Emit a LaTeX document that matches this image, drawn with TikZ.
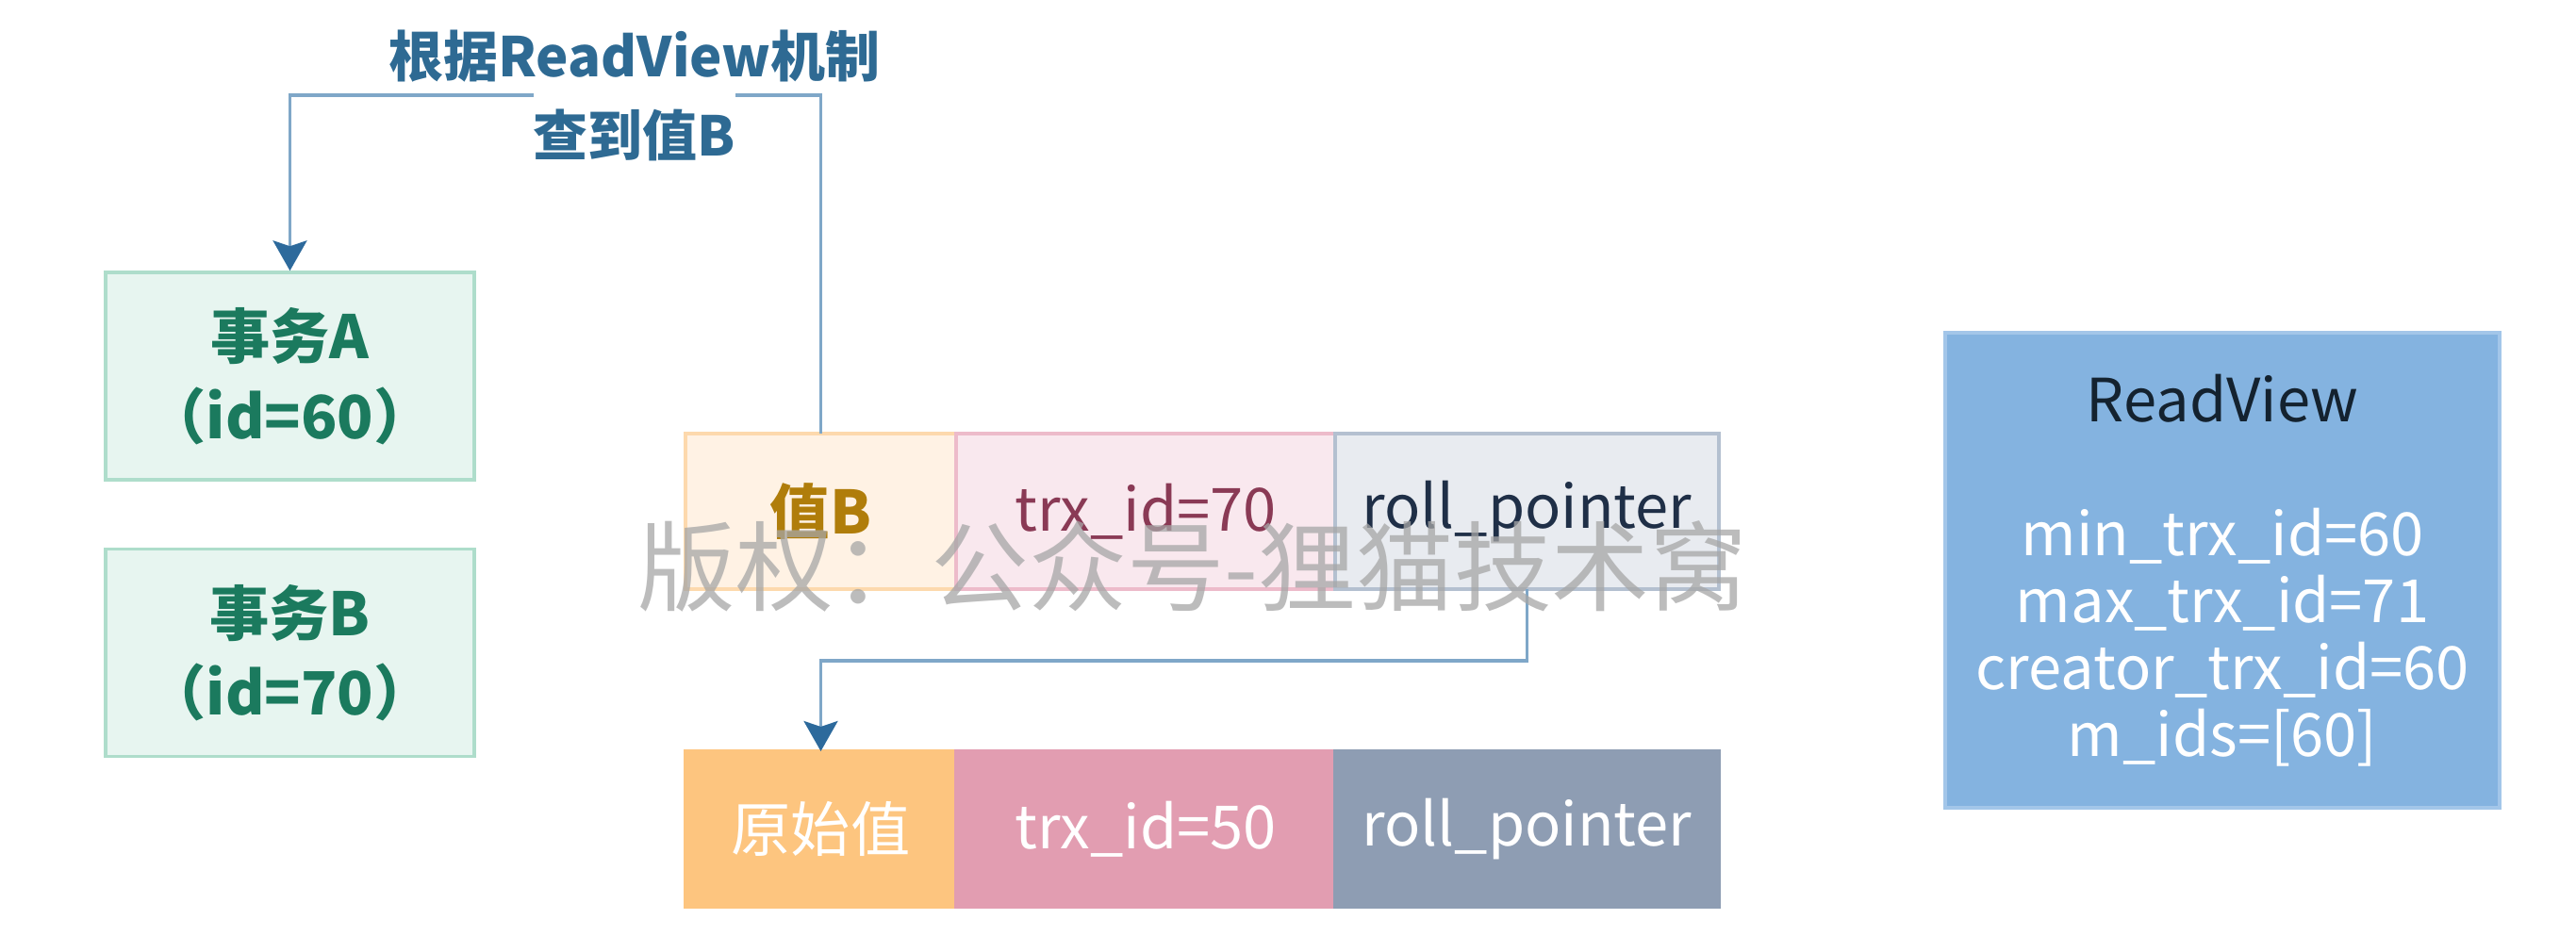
\documentclass[tikz,border=0pt]{standalone}
\usepackage{fontspec}
\setmainfont{Noto Sans CJK SC}
\usetikzlibrary{arrows.meta, positioning}
\definecolor{cTxFill}{HTML}{E7F5F0}
\definecolor{cTxLine}{HTML}{AEDDCB}
\definecolor{cTxText}{HTML}{1B7A5E}
\definecolor{cLink}{HTML}{7FA7C8}
\definecolor{cTip}{HTML}{2D6A9C}
\definecolor{cLabel}{HTML}{2E6A93}
\definecolor{cValFill}{HTML}{FFF2E4}
\definecolor{cValLine}{HTML}{FDD9AD}
\definecolor{cValText}{HTML}{B07D0A}
\definecolor{cTrxFill}{HTML}{F9E8EE}
\definecolor{cTrxLine}{HTML}{EDBBCA}
\definecolor{cTrxText}{HTML}{8A3A55}
\definecolor{cPtrFill}{HTML}{E8EBF0}
\definecolor{cPtrLine}{HTML}{B4C0D0}
\definecolor{cPtrText}{HTML}{1F2F47}
\definecolor{cOrig}{HTML}{FDC57F}
\definecolor{cTrxOld}{HTML}{E29DB1}
\definecolor{cPtrOld}{HTML}{8E9DB3}
\definecolor{cRvFill}{HTML}{84B3E0}
\definecolor{cRvLine}{HTML}{A3C6E9}
\definecolor{cRvText}{HTML}{14222F}
\newcommand{\txt}{\fontsize{18}{24}\selectfont}

\begin{document}
\begin{tikzpicture}[
    txbox/.style={draw=cTxLine, fill=cTxFill, line width=1pt, minimum width=3.91cm,
      minimum height=2.2cm, align=center, text=cTxText, font=\txt\bfseries},
    cell/.style={draw=#1, line width=1pt, minimum height=1.65cm, inner sep=0pt,
      outer sep=0pt, font=\txt},
    conn/.style={draw=cLink, line width=0.9pt,
      -{Stealth[length=3.2mm, width=3.6mm, inset=0.6mm, color=cTip]}},
  ]
  \useasboundingbox (0,0) rectangle (27.32,-10.10);

  % transactions
  \node[txbox] (txA) at (3.075,-3.99) {事务A\\（id=60）};
  \node[txbox, below=0.7cm of txA] (txB) {事务B\\（id=70）};

  % current row version
  \node[cell=cValLine, fill=cValFill, text=cValText, minimum width=2.87cm,
    font=\txt\bfseries] (valB) at (8.705,-5.425) {值B};
  \node[cell=cTrxLine, fill=cTrxFill, text=cTrxText, minimum width=4.02cm,
    right=0pt of valB] (trxNew) {trx\_id=70};
  \node[cell=cPtrLine, fill=cPtrFill, text=cPtrText, minimum width=4.07cm,
    right=0pt of trxNew] (ptrNew) {roll\_pointer};

  % undo log version
  \node[cell=cOrig, fill=cOrig, text=white, minimum width=2.87cm]
    (orig) at (8.705,-8.795) {原始值};
  \node[cell=cTrxOld, fill=cTrxOld, text=white, minimum width=4.02cm,
    right=0pt of orig] (trxOld) {trx\_id=50};
  \node[cell=cPtrOld, fill=cPtrOld, text=white, minimum width=4.07cm,
    right=0pt of trxOld] (ptrOld) {roll\_pointer};

  % read view
  \node[draw=cRvLine, fill=cRvFill, line width=1pt, minimum width=5.88cm,
    minimum height=5.04cm, align=center, text=white,
    font=\fontsize{18}{20.2}\selectfont] (rv) at (23.57,-6.05)
    {\textcolor{cRvText}{ReadView}\\[20.2pt]
     min\_trx\_id=60\\ max\_trx\_id=71\\ creator\_trx\_id=60\\ m\_ids=[60]};

  \draw[conn] (valB.north) -- ++(0,3.59) -| (txA.north);
  \draw[conn] (ptrNew.south) -- ++(0,-0.76) -| (orig.north);

  \node[text=cLabel, font=\fontsize{16.5}{20}\selectfont\bfseries]
    (lblTop) at (6.73,-0.60) {根据ReadView机制};
  \node[text=cLabel, fill=white, inner xsep=0pt, minimum height=1.0cm,
    font=\fontsize{16.5}{20}\selectfont\bfseries] (lblBot) at (6.73,-1.43) {查到值B};

  % watermark
  \node[text=black!35, text opacity=0.75, font=\fontsize{29.5}{34}\selectfont]
    (mark) at (12.65,-6.01) {版权：公众号-狸猫技术窝};
\end{tikzpicture}
\end{document}
